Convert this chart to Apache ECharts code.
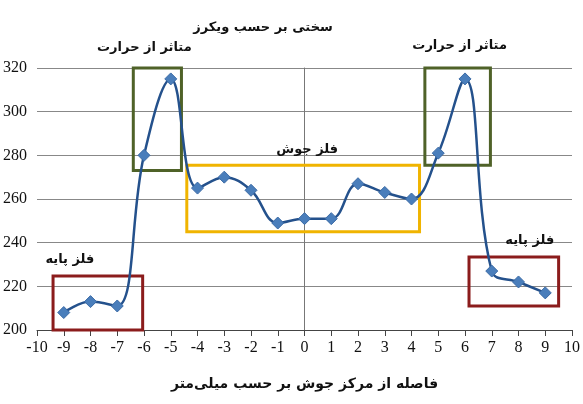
<!DOCTYPE html>
<html><head><meta charset="utf-8">
<script src="https://cdn.jsdelivr.net/npm/echarts@6/dist/echarts.min.js"></script>
<style>html,body{margin:0;padding:0;background:#fff}#c{width:583px;height:404px}</style>
</head><body><div id="c"></div>
<script>
const distances = [-9,-8,-7,-6,-5,-4,-3,-2,-1,0,1,2,3,4,5,6,7,8,9];
const hardness = [208,213,211,280,315,265,270,264,249,251,251,267,263,260,281,315,227,222,217];
const titleText = 'سختی بر حسب ویکرز';
const xAxisTitle = 'فاصله از مرکز جوش بر حسب میلی‌متر';
// zones: [label, xFrom, xTo, yFrom, yTo]
const zoneBase1 = ['فلز پایه', -9.4, -6.05, 200, 224.7];
const zoneHaz1 = ['متاثر از حرارت', -6.4, -4.6, 273, 321];
const zoneWeld = ['فلز جوش', -4.4, 4.3, 245, 275.5];
const zoneHaz2 = ['متاثر از حرارت', 4.5, 6.95, 275.5, 321];
const zoneBase2 = ['فلز پایه', 6.15, 9.5, 211, 233.4];

const serif = 'Liberation Serif, DejaVu Sans, serif';
const fa = 'DejaVu Sans, sans-serif';
function zone(z, color, off, dist){
  return [{
    name: z[0], xAxis: z[1], yAxis: z[3],
    itemStyle:{color:'rgba(0,0,0,0)', borderColor: color, borderWidth: 3},
    label:{show:true, position:'top', distance: dist, offset: off, color:'#111', fontFamily: fa, fontWeight:'bold', fontSize: 13}
  },{ xAxis: z[2], yAxis: z[4] }];
}
const chart = echarts.init(document.getElementById('c'));
chart.setOption({
  animation:false,
  title:{text:titleText, left: 258, top: 16, textAlign:'center', textStyle:{fontFamily:fa, fontWeight:'bold', fontSize:13, color:'#111'}},
  grid:{left:25, right:4, top:68, bottom:74},
  xAxis:{type:'value', min:-10, max:10, interval:1,
    name:xAxisTitle, nameLocation:'middle', nameGap:47,
    nameTextStyle:{fontFamily:fa, fontWeight:'bold', fontSize:14, color:'#111'},
    axisLine:{onZero:false, lineStyle:{color:'#444', width:1}},
    axisTick:{show:true, length:6, lineStyle:{color:'#444'}},
    axisLabel:{fontFamily:serif, fontSize:16, color:'#111', margin:10},
    splitLine:{show:false}},
  yAxis:{type:'value', min:200, max:320, interval:20,
    axisLine:{show:true, onZero:true, lineStyle:{color:'#777'}},
    axisTick:{show:false},
    axisLabel:{fontFamily:serif, fontSize:16, color:'#111', margin:10},
    splitLine:{lineStyle:{color:'#888', width:1}}},
  series:[{
    type:'line', data: distances.map((d,i)=>[d, hardness[i]]),
    smooth:0.4, symbol:'diamond', symbolSize:12, clip:false,
    lineStyle:{color:'#24518c', width:2.5},
    itemStyle:{color:'#4a7ebb', borderColor:'#3a6aa5', borderWidth:1},
    markArea:{silent:true, data:[
      zone(zoneBase1, '#8b1c1c', [-28,0], 8),
      zone(zoneHaz1, '#4f6228', [-13,0], 12),
      zone(zoneWeld, '#f0b400', [4,0], 8),
      zone(zoneHaz2, '#4f6228', [2,0], 14),
      zone(zoneBase2, '#8b1c1c', [16,0], 8)
    ]}
  }]
});
</script></body></html>
